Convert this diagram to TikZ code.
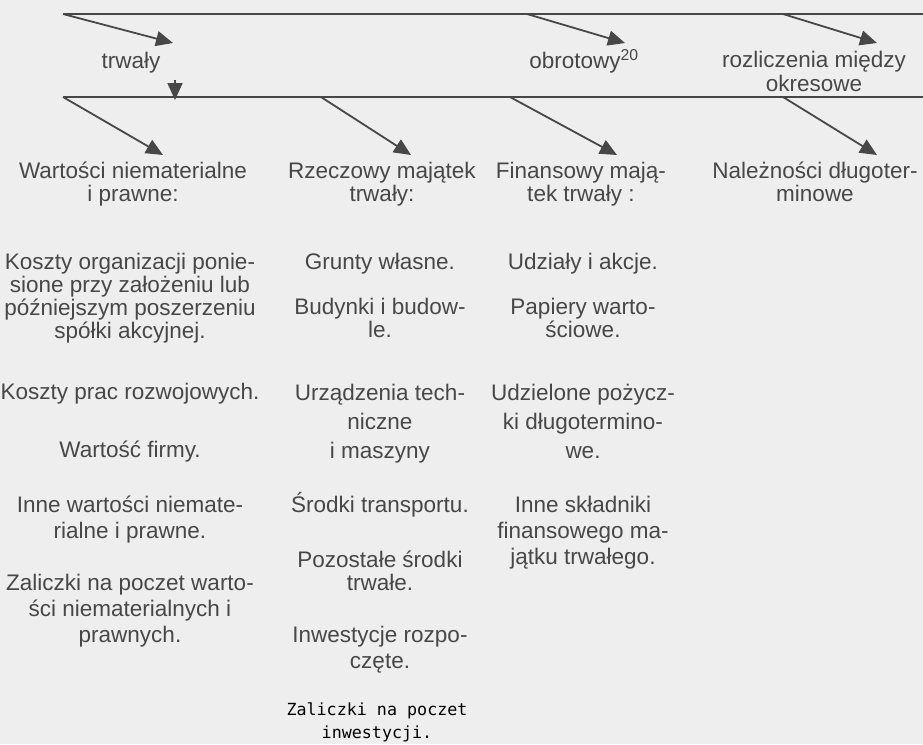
\documentclass[tikz,border=0pt]{standalone}
\usepackage{fontspec}
\setmainfont{Liberation Sans}
\newfontfamily\monofont{DejaVu Sans Mono}
\usetikzlibrary{arrows.meta}
\definecolor{ink}{HTML}{474747}
\definecolor{paper}{HTML}{EEEEEE}

\begin{document}
\begin{tikzpicture}[x=1pt,y=-1pt,
                    item/.style={align=center,anchor=base,inner sep=0pt,text=ink,
                                 font=\fontsize{22.5}{23}\selectfont},
                    loose/.style={item,font=\fontsize{22.5}{26}\selectfont},
                    bar/.style={draw=ink,line width=1.8pt},
                    arr/.style={bar,-{Triangle[length=17pt,width=15pt]}}]
  \fill[paper] (0,0) rectangle (923,744);
  \useasboundingbox (0,0) rectangle (923,744);
  % upper bar
  \coordinate (t0) at (63,14);
  \coordinate (t1) at (527,14);
  \coordinate (t2) at (783,14);
  \coordinate (tE) at (923,14);
  \coordinate (p1) at (173,43);
  \coordinate (p2) at (625,43);
  \coordinate (p3) at (877,43);
  \draw[bar] (t0)--(tE);
  \draw[arr] (t0)--(p1);
  \draw[arr] (t1)--(p2);
  \draw[arr] (t2)--(p3);
  \node[item] (trw) at (131,68) {trwały};
  \node[item] (obr) at (584,68) {obrotowy\textsuperscript{20}};
  \node[item,font=\fontsize{22.5}{24}\selectfont] (rmo) at (814,91) {rozliczenia między\\okresowe};
  % lower bar
  \coordinate (d0) at (175,80);
  \coordinate (d1) at (175,100);
  \draw[arr] (d0)--(d1);
  \coordinate (s0) at (63,97);
  \coordinate (s1) at (321,97);
  \coordinate (s2) at (510,97);
  \coordinate (s3) at (783,97);
  \coordinate (sE) at (923,97);
  \coordinate (q1) at (163,155);
  \coordinate (q2) at (411,155);
  \coordinate (q3) at (617,155);
  \coordinate (q4) at (877,155);
  \draw[bar] (s0)--(sE);
  \draw[arr] (s0)--(q1);
  \draw[arr] (s1)--(q2);
  \draw[arr] (s2)--(q3);
  \draw[arr] (s3)--(q4);
  \node[item] (wnp) at (133,201) {Wartości niematerialne\\i prawne:};
  \node[item] (rmt) at (382,201) {Rzeczowy majątek\\trwały:};
  \node[item] (fmt) at (581,201) {Finansowy mają-\\tek trwały :};
  \node[item] (ndt) at (815,201) {Należności długoter-\\minowe};
  % wartosci niematerialne i prawne
  \node[item] (k1) at (130,338) {Koszty organizacji ponie-\\sione przy założeniu lub\\późniejszym poszerzeniu\\spółki akcyjnej.};
  \node[item] (k2) at (130,399) {Koszty prac rozwojowych.};
  \node[item] (k3) at (130,457) {Wartość firmy.};
  \node[loose] (k4) at (130,538) {Inne wartości niemate-\\rialne i prawne.};
  \node[loose] (k5) at (130,642) {Zaliczki na poczet warto-\\ści niematerialnych i\\prawnych.};
  % rzeczowy majatek trwaly
  \node[item] (r1) at (380,269) {Grunty własne.};
  \node[item] (r2) at (380,337) {Budynki i budow-\\le.};
  \node[loose] (r3) at (380,458) {Urządzenia tech-\\[3pt]niczne\\[3pt]i maszyny};
  \node[item] (r4) at (380,512) {Środki transportu.};
  \node[item] (r5) at (380,590) {Pozostałe środki\\trwałe.};
  \node[loose] (r6) at (380,668) {Inwestycje rozpo-\\częte.};
  \node[align=center,anchor=base,inner sep=0pt,
        font=\monofont\fontsize{16.7}{23}\selectfont] (r7) at (377,738) {Zaliczki na poczet\\inwestycji.};
  % finansowy majatek trwaly
  \node[item] (f1) at (583,269) {Udziały i akcje.};
  \node[item] (f2) at (583,337) {Papiery warto-\\ściowe.};
  \node[loose] (f3) at (583,458) {Udzielone pożycz-\\[3pt]ki długotermino-\\[3pt]we.};
  \node[loose] (f4) at (583,564) {Inne składniki\\finansowego ma-\\jątku trwałego.};
\end{tikzpicture}
\end{document}
